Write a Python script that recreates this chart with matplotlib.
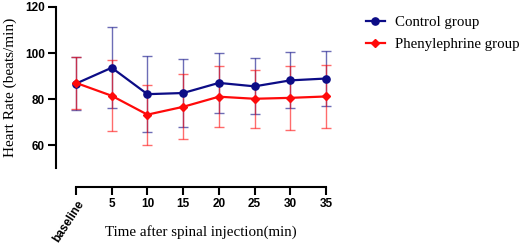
import numpy as np
import matplotlib
matplotlib.use("Agg")
from matplotlib import pyplot as plt

# data
time_labels = ['baseline', '5', '10', '15', '20', '25', '30', '35']
control_mean = [86.7, 93.6, 82.1, 82.6, 87.0, 85.5, 88.1, 88.9]
control_sd = [11.7, 17.5, 16.4, 14.7, 13.0, 12.2, 12.2, 12.0]
phenyl_mean = [87.0, 81.4, 73.2, 76.6, 81.0, 80.1, 80.5, 81.1]
phenyl_sd = [11.2, 15.4, 13.0, 14.2, 13.2, 12.5, 13.9, 13.6]

blue = '#0c0c86'
red = '#ff0a0a'
serif = 'Liberation Serif'
sans = 'Liberation Sans'

fig = plt.figure(figsize=(5.26, 2.49), dpi=100)
ax = fig.add_axes([76 / 526, 81 / 249, 250 / 526, 161 / 249])

x = np.arange(len(time_labels))

for mean, sd, col, mk, lab in [(control_mean, control_sd, blue, 'o', 'Control group'),
                               (phenyl_mean, phenyl_sd, red, 'D', 'Phenylephrine group')]:
    eb = ax.errorbar(x, mean, yerr=sd, fmt='none', ecolor=col, alpha=0.6,
                     elinewidth=1.0, capsize=3.5, capthick=1.0, zorder=2)
    for art in eb.lines[1] + eb.lines[2]:
        art.set_clip_on(False)
    ax.plot(x, mean, color=col, marker=mk, markersize=5.2 if mk == 'o' else 4.4,
            linewidth=1.6, label=lab, zorder=3, clip_on=False)

ax.set_xlim(0, 7)
ax.set_ylim(50, 120)
ax.set_yticks([60, 80, 100, 120])
ax.set_xticks(x)
ax.set_xticklabels(time_labels)

for s in ['top', 'right']:
    ax.spines[s].set_visible(False)
# outward offsets are in points
ax.spines['left'].set_position(('outward', 14.5))
ax.spines['bottom'].set_position(('outward', 13.7))
for s in ['left', 'bottom']:
    ax.spines[s].set_linewidth(1.5)
ax.tick_params(width=1.5, length=5.5, pad=2.5)

for t in ax.get_yticklabels() + ax.get_xticklabels():
    t.set_fontfamily(sans)
    t.set_fontweight('bold')
    t.set_fontsize(8.5)
base = ax.get_xticklabels()[0]
base.set_rotation(57)
base.set_ha('right')
base.set_va('top')
base.set_rotation_mode('anchor')

ax.set_ylabel('Heart Rate (beats/min)', family=serif, fontsize=11, va='center')
ax.yaxis.set_label_coords(-0.262, 0.5)
ax.set_xlabel('Time after spinal injection(min)', family=serif, fontsize=10.8, va='top')
ax.xaxis.set_label_coords(0.5, -0.355)

ax.legend(loc='upper left', bbox_to_anchor=(1.105, 1.03), frameon=False,
          prop={'family': serif, 'size': 10.7}, handlelength=1.3, labelspacing=0.6,
          handletextpad=0.7)

fig.savefig('out.png', dpi=100)
